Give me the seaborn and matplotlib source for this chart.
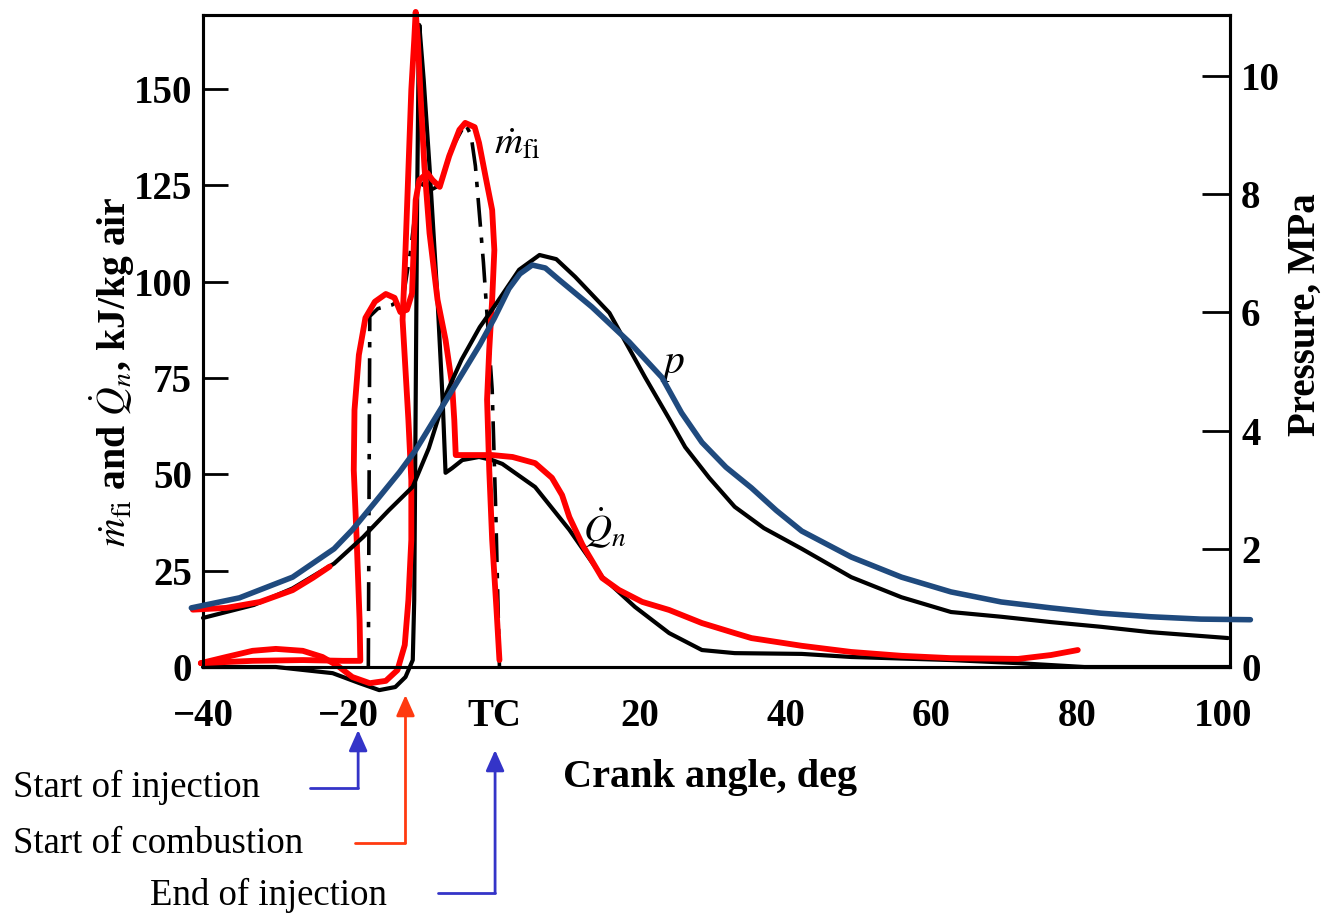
import matplotlib
matplotlib.use("Agg")
import matplotlib.pyplot as plt
import seaborn as sns

# crank angle (deg) / value pairs
# heat release rate Q_n, kJ/kg air (black, original scan)
qn_deg = [-40, -30, -22.2, -18.5, -15.8, -13.6, -12.2, -11.2, -11.0, -10.8, -10.6, -10.4, -10.3, -9.7,
          -8.9, -7.8, -7.1, -6.7, -5.8, -4.4, -2.1, -0.3, 1.1, 5.6, 10.3, 14.8, 19.3, 24.0, 28.5, 33.0,
          42.2, 49.0, 62.7, 71.9, 81.0, 101]
qn_val = [0, 0, -1.6, -4.2, -6.0, -5.2, -2.6, 1.8, 17.4, 69.0, 121.0, 157.5, 166.6, 152.4,
          129.8, 95.3, 69.3, 50.4, 51.6, 53.7, 54.5, 53.7, 52.7, 46.7, 35.6, 23.4, 15.6, 8.8, 4.4, 3.6,
          3.4, 2.6, 1.8, 1.0, 0, 0]

# fuel injection rate m_fi (black dash-dot, original scan)
mfi_deg = [-17.3, -17.1, -16.0, -14.0, -12.5, -11.5, -10.5, -9.5, -8.5, -7.5, -6.0, -4.0, -3.2, -2.6,
           -1.5, -0.3, 0.2, 0.7]
mfi_val = [0, 91, 93, 94, 96, 108, 124, 126, 124, 125, 134, 141, 138, 130,
           105, 72, 40, 0]

# cylinder pressure, MPa (black, original scan)
p_deg = [-40, -33, -27.7, -22, -18, -14.5, -11.2, -9, -6.7, -4.5, -2, 0, 3.4, 6.2, 8.5, 11.1, 15.8,
         20.7, 24, 26.2, 29.5, 33, 37, 42.2, 49, 55.9, 62.7, 69.6, 76.4, 83.3, 90, 100.7]
p_mpa = [0.83, 1.05, 1.33, 1.75, 2.2, 2.65, 3.05, 3.7, 4.6, 5.2, 5.75, 6.1, 6.72, 6.97, 6.9, 6.6, 5.99,
         4.9, 4.2, 3.72, 3.2, 2.71, 2.35, 2.0, 1.52, 1.18, 0.93, 0.85, 0.76, 0.68, 0.59, 0.49]

# blue overlay on pressure, MPa
blue_deg = [-41.6, -35, -27.7, -22, -19.5, -16.3, -13, -10.8, -5.75, -2, 0, 2, 3.5, 5.2, 7, 8.9, 13.4,
            18.5, 23, 25.7, 28.5, 31.8, 35.3, 38.7, 42.2, 49, 55.9, 62.7, 69.6, 76.4, 83.3, 90.1, 97, 103.8]
blue_mpa = [1.0, 1.17, 1.52, 2.0, 2.32, 2.8, 3.3, 3.67, 4.69, 5.45, 5.9, 6.4, 6.65, 6.8, 6.75, 6.55, 6.09,
            5.5, 4.9, 4.3, 3.8, 3.38, 3.03, 2.65, 2.3, 1.86, 1.52, 1.27, 1.10, 1.0, 0.91, 0.85, 0.81, 0.80]

# red hand-drawn overlays
red_p_deg = [-41.4, -36.8, -32.2, -27.7, -24.9, -22.6]
red_p_mpa = [0.97, 1.0, 1.1, 1.3, 1.51, 1.70]

red_q_deg = [-40.3, -36.8, -33.2, -30.0, -26.3, -23.6, -21.5, -19.5, -17.1, -14.9, -13.3, -12.3, -11.8,
             -11.4, -11.4, -11.8, -12.2, -12.6, -12.2, -11.8, -11.4, -11.0, -10.8, -10.5, -10.1, -9.6,
             -8.9, -7.8, -6.7, -5.8, -5.5, -5.3, -3.0, -0.3, 2.5, 5.6, 7.9, 9.3, 10.3, 12.1, 14.8, 17.1,
             20.3, 24.0, 28.5, 33.0, 35.3, 42.2, 49.0, 55.9, 62.7, 71.9, 76.4, 80.1]
red_q_val = [1.0, 2.6, 4.2, 4.7, 4.2, 2.6, 0.3, -2.6, -4.2, -3.6, -0.8, 5.7, 17.4,
             33.0, 48.5, 64.1, 77.1, 90.1, 108.2, 129.0, 149.8, 162.7, 170.0, 162.7, 147.2, 129.8,
             112.6, 95.3, 84.9, 73.2, 64.1, 55.0, 55.0, 55.0, 54.5, 52.9, 49.1, 44.6, 38.9, 31.7, 23.1, 20.0,
             16.9, 14.8, 11.4, 8.8, 7.5, 5.5, 3.9, 2.9, 2.3, 2.1, 3.1, 4.4]

red_m_deg = [-40.3, -33.2, -26.3, -20.8, -18.4, -18.5, -18.9, -19.3, -19.2, -18.6, -17.7, -16.4, -14.9,
             -13.7, -12.9, -12.0, -11.3, -11.0, -10.8, -10.3, -9.2, -8.5, -7.5, -6.2, -4.8, -4.0, -2.7,
             -2.1, -1.2, -0.3, 0.0, -0.3, -0.7, -1.0, -0.7, -0.3, 0.3, 0.7]
red_m_val = [1.0, 1.6, 1.8, 1.6, 1.6, 12.1, 33.0, 51.1, 66.7, 81.0, 90.6, 94.8, 96.8,
             95.8, 92.1, 92.7, 97.0, 112.6, 121.2, 126.4, 128.2, 126.4, 124.6, 132.6, 139.4, 141.2, 140.1,
             136.0, 127.2, 118.6, 108.2, 95.3, 82.4, 69.4, 51.1, 33.0, 14.8, 1.8]

x_ticks = [-40, -20, 0, 20, 40, 60, 80, 100]
x_labels = ["\u221240", "\u221220", "TC", "20", "40", "60", "80", "100"]
left_ticks = [0, 25, 50, 75, 100, 125, 150]
right_ticks = [0, 2, 4, 6, 8, 10]

# events marked under the axis
events = [("Start of injection", -18.7, "#3434c8"),
          ("Start of combustion", -12.2, "#ff3a10"),
          ("End of injection", 0.1, "#3434c8")]

sns.set_theme(style="white")
plt.rcParams["font.family"] = ["Liberation Serif", "DejaVu Serif"]
plt.rcParams["mathtext.fontset"] = "stix"
for k in ("text.color", "axes.labelcolor", "xtick.color", "ytick.color"):
    plt.rcParams[k] = "black"

fig = plt.figure(figsize=(13.36, 9.14), dpi=100)
ax = fig.add_axes([203 / 1336, 1 - 667 / 914, 1027 / 1336, 652 / 914])
ax2 = ax.twinx()

line_kw = dict(sort=False, estimator=None, clip_on=False, solid_joinstyle="round", solid_capstyle="round")

sns.lineplot(x=qn_deg, y=qn_val, ax=ax, color="black", linewidth=3, zorder=2, **line_kw)
sns.lineplot(x=mfi_deg, y=mfi_val, ax=ax, color="black", linewidth=2.6, zorder=2, sort=False,
             estimator=None, clip_on=False, linestyle=(0, (8, 3, 1.5, 3)))
sns.lineplot(x=p_deg, y=p_mpa, ax=ax2, color="black", linewidth=3, zorder=2, **line_kw)

sns.lineplot(x=red_q_deg, y=red_q_val, ax=ax, color="#ff0000", linewidth=4.2, zorder=3, **line_kw)
sns.lineplot(x=red_m_deg, y=red_m_val, ax=ax, color="#ff0000", linewidth=4.2, zorder=3, **line_kw)
sns.lineplot(x=red_p_deg, y=red_p_mpa, ax=ax2, color="#ff0000", linewidth=4.2, zorder=3, **line_kw)
sns.lineplot(x=blue_deg, y=blue_mpa, ax=ax2, color="#1f4a7e", linewidth=4, zorder=4, **line_kw)

ax.set_xlim(-40, 101)
ax.set_ylim(0, 169.2)
ax2.set_ylim(0, 11.03)

ax.set_xticks(x_ticks)
ax.set_xticklabels(x_labels)
ax.set_yticks(left_ticks)
ax2.set_yticks(right_ticks)

ax.tick_params(axis="x", length=0, labelsize=28, pad=22, bottom=True)
ax.tick_params(axis="y", direction="in", length=18, width=2, labelsize=28, pad=8, left=True, color="black")
ax2.tick_params(axis="y", direction="in", length=20, width=2, labelsize=28, pad=8, right=True, color="black")
for lab in ax.get_xticklabels() + ax.get_yticklabels() + ax2.get_yticklabels():
    lab.set_fontweight("bold")

for a in (ax, ax2):
    for s in a.spines.values():
        s.set_color("black")
        s.set_linewidth(2.2)
    a.grid(False)
ax.set_facecolor("white")

ax.set_xlabel("Crank angle, deg", fontsize=29, fontweight="bold")
ax.xaxis.set_label_coords(0.4937, -0.17)
ax.xaxis.label.set_va("center")

ax.set_ylabel(r"$\dot{m}_{\rm fi}$ and $\dot{Q}_n$, kJ/kg air", fontsize=28.5, fontweight="bold")
ax.yaxis.set_label_coords(-0.0886, 0.4525)
ax.yaxis.label.set_va("center")

ax2.set_ylabel("Pressure, MPa", fontsize=28, fontweight="bold", rotation=90)
ax2.yaxis.set_label_coords(1.073, 0.54)
ax2.yaxis.label.set_va("center")

ax.text(3.2, 135.5, r"$\dot{m}_{\rm fi}$", fontsize=28, ha="center", va="center")
ax.text(24.4, 78.4, r"$p$", fontsize=30, ha="center", va="center")
ax.text(15.2, 36.1, r"$\dot{Q}_n$", fontsize=28, ha="center", va="center")

# L-shaped pointers from the labels up to the axis
tr = ax.get_xaxis_transform()
hooks = [(-25.3, -0.1856, -0.0966), (-19.1, -0.270, -0.0429), (-7.7, -0.3466, -0.1273)]
text_pos = [(13, 797), (13, 853), (150, 905)]
for (name, xa, col), (xl, yh, ytip), (tx, ty) in zip(events, hooks, text_pos):
    ax.plot([xl, xa], [yh, yh], transform=tr, color=col, lw=2, clip_on=False)
    ax.annotate("", xy=(xa, ytip), xytext=(xa, yh), xycoords=tr, textcoords=tr,
                arrowprops=dict(arrowstyle="-|>,head_length=0.9,head_width=0.4", color=col, lw=2,
                                shrinkA=0, shrinkB=0, mutation_scale=14),
                annotation_clip=False)
    fig.text(tx / 1336, 1 - ty / 914, name, fontsize=26.5, ha="left", va="baseline")

fig.savefig("out.png", dpi=100)
